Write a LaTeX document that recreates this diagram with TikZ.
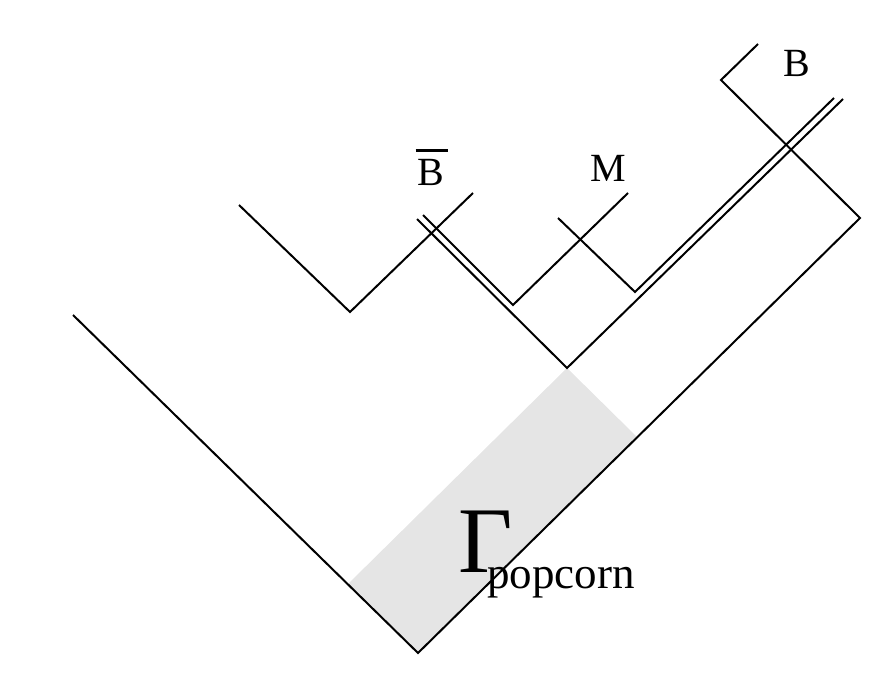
\documentclass[tikz,border=0pt]{standalone}
\usepackage{fontspec}
\setmainfont{Liberation Serif}
\usetikzlibrary{positioning}

\begin{document}
\begin{tikzpicture}[
  x=1pt, y=-1pt,
  leg/.style={line width=2pt, line join=miter},
  band/.style={fill=black!10, draw=none},
  lbl/.style={font=\fontsize{40}{40}\selectfont, inner sep=0pt, anchor=base}
]
\useasboundingbox (0,0) rectangle (886,679);
% outer wedge
\coordinate (outL) at (73,315);
\coordinate (outB) at (418,653);
\coordinate (outR) at (860,218);
\coordinate (topK) at (721,80);
\coordinate (topE) at (758,44);
% middle wedge
\coordinate (midB) at (567,368);
\coordinate (midL) at (417,219);
\coordinate (midR) at (843,99);
% small wedges
\coordinate (lftL) at (239,205);
\coordinate (lftB) at (350,312);
\coordinate (lftR) at (473,193);
\coordinate (cenB) at (513,305);
\coordinate (cenL) at (423,215);
\coordinate (cenR) at (628,193);
\coordinate (mB)   at (635,292);
\coordinate (mL)   at (558,218);
\coordinate (mR)   at (834,98);
% popcorn band
\fill[band] (midB) -- (637,437) -- (outB) -- (348,584) -- cycle;
% lines
\draw[leg] (outL) -- (outB) -- (outR) -- (topK) -- (topE);
\draw[leg] (midL) -- (midB) -- (midR);
\draw[leg] (lftL) -- (lftB) -- (lftR);
\draw[leg] (cenL) -- (cenB) -- (cenR);
\draw[leg] (mL) -- (mB) -- (mR);
% labels
\node[lbl] (bbar) at (431,186)
  {\makebox[0pt][l]{\hspace*{-2pt}\raisebox{34pt}{\rule{32pt}{2.6pt}}}B};
\node[lbl] (mlbl) at (608,182) {M};
\node[lbl] (blbl) at (797,77) {B};
\node[font=\fontsize{94}{94}\selectfont, inner sep=0pt, anchor=base west] (gam) at (458,572) {Γ};
\node[font=\fontsize{45}{45}\selectfont, inner sep=0pt, anchor=base west] (sub) at (487,588) {popcorn};
\end{tikzpicture}
\end{document}
